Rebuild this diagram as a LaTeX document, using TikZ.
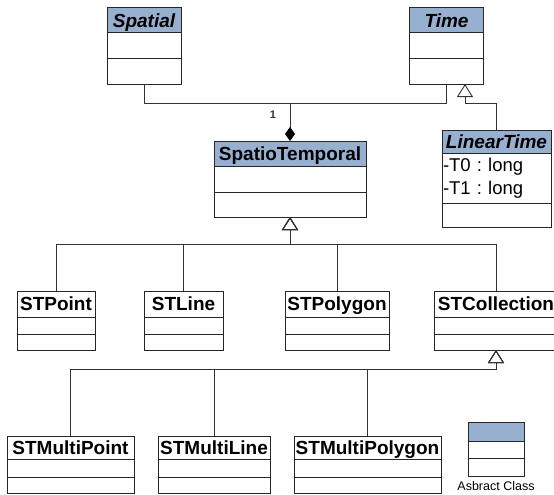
\documentclass[tikz,border=0pt]{standalone}
\usepackage{fontspec}
\setmainfont{Liberation Sans}
\usetikzlibrary{positioning,arrows.meta}

\definecolor{headblue}{RGB}{152,176,207}

\tikzstyle{head}=[draw=black!85,line width=1pt,inner sep=0pt,outer sep=0pt,anchor=north,
	text height=13.6pt,text depth=0pt,font=\fontsize{19}{22}\selectfont\bfseries]
\tikzstyle{part}=[draw=black!85,line width=1pt,inner sep=0pt,outer sep=0pt]
\tikzstyle{link}=[draw,black!80,line width=0.9pt]
\tikzstyle{inherit}=[link,-{Triangle[open,length=13pt,width=16pt]}]
\tikzstyle{compose}=[link,-{Diamond[length=14pt,width=10pt,color=black]}]

\begin{document}
\begin{tikzpicture}[x=1pt,y=-1pt]
	\clip (0,0) rectangle (554,495);

	% class headers, abstract ones shaded
	\foreach \name/\pos/\bw/\bh/\bg/\title in {
		{spatial/(144,8)/74/25/headblue/\itshape Spatial}, {time/(446.5,8)/74/25/headblue/\itshape Time},
		{spatiotemporal/(290,141)/152/25/headblue/SpatioTemporal},
		{lineartime/(496.5,130)/109/23/headblue/\itshape LinearTime},
		{stpoint/(56,291)/78/26/white/STPoint}, {stline/(183.5,291)/79/26/white/STLine},
		{stpolygon/(337,291)/104/26/white/STPolygon}, {stcollection/(496,291)/124/26/white/STCollection},
		{stmultipoint/(70.5,436)/127/23/white/STMultiPoint}, {stmultiline/(214,436)/112/23/white/STMultiLine},
		{stmultipolygon/(367.5,436)/147/23/white/STMultiPolygon}, {legend/(496,422)/56/19/headblue/}}
		\node[head,fill=\bg,minimum width=\bw,minimum height=\bh] (\name) at \pos {\title};

	% attribute and operation compartments
	\foreach \name/\bw/\ha/\hb in {spatial/74/26/25, time/74/26/25, spatiotemporal/152/26/25,
		stpoint/78/17/16, stline/79/17/16, stpolygon/104/17/16, stcollection/124/17/16,
		stmultipoint/127/18/16, stmultiline/112/18/16, stmultipolygon/147/18/16, legend/56/17/18}{
		\node[part,minimum width=\bw,minimum height=\ha,below=0pt of \name] (\name-a) {};
		\node[part,minimum width=\bw,minimum height=\hb,below=0pt of \name-a] (\name-b) {};
	}
	\node[part,text width=107pt,inner xsep=1pt,minimum height=50,align=left,below=0pt of lineartime,
		font=\fontsize{18.5}{23}\selectfont\frenchspacing] (lineartime-a) {-T0 : long\\-T1 : long};
	\node[part,minimum width=109,minimum height=24,below=0pt of lineartime-a] (lineartime-b) {};

	\node[font=\fontsize{12.5}{15}\selectfont] (legendtext) at (496,486) {Asbract Class};

	% connectors
	\coordinate (compjoin) at (290,103);
	\coordinate (timejoin) at (465,103);
	\coordinate (stjoin) at (290,244);
	\coordinate (colljoin) at (496,369);

	\path[compose] (spatial-b.south) |- (compjoin)
		-- node[pos=0.3,xshift=-17pt,font=\fontsize{11}{13}\selectfont\bfseries] {1} (spatiotemporal.north);
	\path[link] (time-b.south) |- (compjoin);
	\path[inherit] (lineartime.north) |- (timejoin) -- (timejoin |- time-b.south);
	\foreach \name in {stpoint,stline,stpolygon,stcollection}
		\path[inherit] (\name.north) |- (stjoin) -- (spatiotemporal-b.south);
	\foreach \name in {stmultipoint,stmultiline,stmultipolygon}
		\path[inherit] (\name.north) |- (colljoin) -- (stcollection-b.south);
\end{tikzpicture}
\end{document}
